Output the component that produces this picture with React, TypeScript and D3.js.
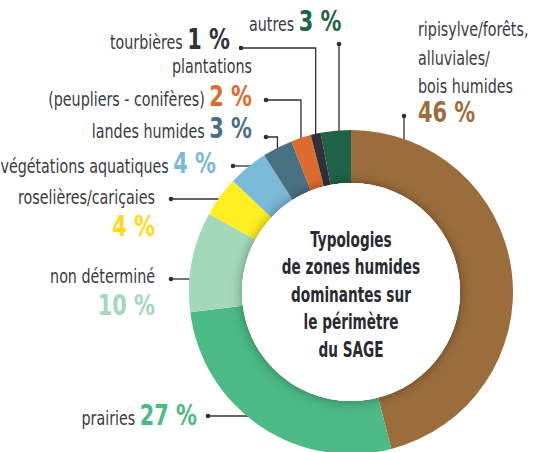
import React, { useEffect } from 'react';
import * as d3 from 'd3';

// data
const categories = [
  'ripisylve/forêts, alluviales/ bois humides',
  'prairies',
  'non déterminé',
  'roselières/cariçaies',
  'végétations aquatiques',
  'landes humides',
  'plantations (peupliers - conifères)',
  'tourbières',
  'autres',
];
const values = [46, 27, 10, 4, 4, 3, 2, 1, 3];
const colors = ['#9b6d3c', '#4bba84', '#a3d8ba', '#ffee22', '#7ab9d8', '#48717f', '#db6b2e', '#303039', '#1e6348'];
const pctColors = ['#9b6d3c', '#4bba84', '#a3d8ba', '#ffd91a', '#7ab9d8', '#48717f', '#db6b2e', '#303039', '#1e6348'];
const centerLines = ['Typologies', 'de zones humides', 'dominantes sur', 'le périmètre', 'du SAGE'];

// label layout (text lines, anchor, leader kind)
const labelLines = [
  ['ripisylve/forêts,', 'alluviales/', 'bois humides'],
  ['prairies'],
  ['non déterminé'],
  ['roselières/cariçaies'],
  ['végétations aquatiques'],
  ['landes humides'],
  ['plantations', '(peupliers - conifères)'],
  ['tourbières'],
  ['autres'],
];
const labelLayout = [
  { x: 418, y: 36, anchor: 'start', pctOwnLine: true, leader: 'v', dx: 404, dy: 116 },
  { x: 197, y: 425, anchor: 'end', pctOwnLine: false, leader: 'h', dx: 208, dy: 416 },
  { x: 155, y: 283, anchor: 'end', pctOwnLine: true, leader: 'h', dx: 171, dy: 279 },
  { x: 155, y: 204, anchor: 'end', pctOwnLine: true, leader: 'h', dx: 171, dy: 199 },
  { x: 216, y: 173, anchor: 'end', pctOwnLine: false, leader: 'h', dx: 233, dy: 166 },
  { x: 252, y: 138, anchor: 'end', pctOwnLine: false, leader: 'e', dx: 266, dy: 137 },
  { x: 252, y: 73, anchor: 'end', pctOwnLine: false, leader: 'e', dx: 266, dy: 100 },
  { x: 230, y: 49, anchor: 'end', pctOwnLine: false, leader: 'e', dx: 241, dy: 48 },
  { x: 249, y: 31, anchor: 'start', pctOwnLine: false, leader: 'v', dx: 339, dy: 44 },
];

const W = 535;
const H = 452;
const cx = 351;
const cy = 292;
const R = 162;
const r = 109;
const FONT = "'DejaVu Sans Condensed', 'DejaVu Sans', sans-serif";
const SX = 0.815; // horizontal squeeze to mimic a condensed face
const SXC = 0.74;
const lineGap = 28.5;

export default function App() {
  useEffect(() => {
    document.body.style.margin = '0';
  }, []);

  const pie = d3.pie<number>().sort(null).value((d) => d).startAngle(0).endAngle(2 * Math.PI);
  const arcs = pie(values);
  const arc = d3.arc<d3.PieArcDatum<number>>().innerRadius(r).outerRadius(R);

  const ringX = (y: number) => cx - Math.sqrt(R * R - (y - cy) * (y - cy)) + 1.5;
  const ringY = (x: number) => cy - Math.sqrt(R * R - (x - cx) * (x - cx)) + 1.5;

  const leaderPath = (i: number) => {
    const l = labelLayout[i];
    if (l.leader === 'h') return `M${l.dx},${l.dy}H${ringX(l.dy)}`;
    if (l.leader === 'v') return `M${l.dx},${l.dy}V${ringY(l.dx)}`;
    const a = arcs[i];
    const mid = (a.startAngle + a.endAngle) / 2;
    const ex = cx + R * Math.sin(mid);
    return `M${l.dx},${l.dy}H${ex}V${ringY(ex)}`;
  };

  return (
    <svg width={W} height={H} style={{ display: 'block' }} fontFamily={FONT}>
      <defs>
        <filter id="innerShade" x="-30%" y="-30%" width="160%" height="160%">
          <feDropShadow dx="0" dy="0" stdDeviation="6" floodColor="#000" floodOpacity="0.38" />
        </filter>
      </defs>
      <rect width={W} height={H} fill="#fff" />

      {/* leaders */}
      <g stroke="#2e2e34" strokeWidth={1.3} fill="none">
        {labelLayout.map((l, i) => (
          <path key={i} d={leaderPath(i)} />
        ))}
      </g>
      <g fill="#2e2e34">
        {labelLayout.map((l, i) => (
          <circle key={i} cx={l.dx} cy={l.dy} r={2.3} />
        ))}
      </g>

      {/* ring */}
      <g transform={`translate(${cx},${cy})`}>
        {arcs.map((a, i) => (
          <path key={i} d={arc(a) || ''} fill={colors[i]} />
        ))}
        <circle r={r} fill="#fff" filter="url(#innerShade)" />
        <circle r={r} fill="#fff" />
        <g textAnchor="middle" fontWeight="bold" fontSize={20.5} fill="#2a2a30">
          {centerLines.map((t, i) => (
            <text key={i} transform={`translate(0,${246.5 - cy + i * 27.5}) scale(${SXC},1)`}>
              {t}
            </text>
          ))}
        </g>
      </g>

      {/* labels */}
      {labelLayout.map((l, i) => {
        const lines = labelLines[i];
        const pct = (
          <tspan fontWeight="bold" fontSize={28.5} fill={pctColors[i]}>
            {`${values[i]} %`}
          </tspan>
        );
        return (
          <g key={i} textAnchor={l.anchor} fontSize={19.5} fill="#3a3a42">
            {lines.map((t, j) => {
              const last = j === lines.length - 1;
              const y = l.y + j * (i === 6 ? 33 : lineGap);
              return (
                <text key={j} transform={`translate(${l.x},${y}) scale(${SX},1)`}>
                  {t}
                  {last && !l.pctOwnLine ? ' ' : null}
                  {last && !l.pctOwnLine ? pct : null}
                </text>
              );
            })}
            {l.pctOwnLine ? (
              <text
                transform={`translate(${l.x},${l.y + lines.length * lineGap + (i === 0 ? 0 : 3)}) scale(${SX},1)`}
              >
                {pct}
              </text>
            ) : null}
          </g>
        );
      })}
    </svg>
  );
}
